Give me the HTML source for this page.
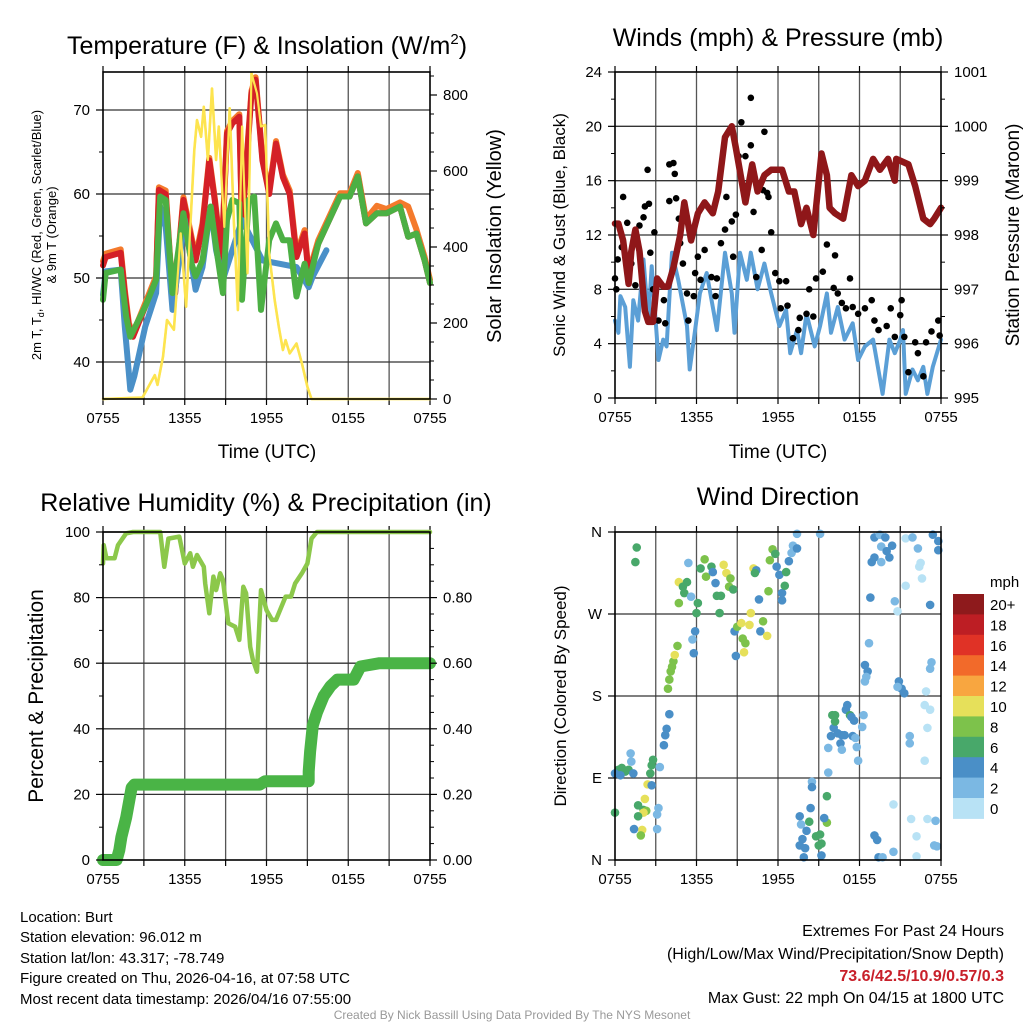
<!DOCTYPE html>
<html><head><meta charset="utf-8">
<style>
html,body{margin:0;padding:0;background:#fff;}
svg{display:block;font-family:"Liberation Sans",Arial,sans-serif;}
</style></head>
<body>
<svg id="fig" width="1024" height="1024" viewBox="0 0 1024 1024" xmlns="http://www.w3.org/2000/svg">
<rect width="1024" height="1024" fill="#fff"/>
<g id="p1"></g>
<g id="p2"></g>
<g id="p3"></g>
<g id="p4"></g>
<g id="txt">
<text x="20" y="922" font-size="15">Location: Burt</text>
<text x="20" y="942" font-size="15">Station elevation: 96.012 m</text>
<text x="20" y="963" font-size="15">Station lat/lon: 43.317; -78.749</text>
<text x="20" y="983" font-size="15">Figure created on Thu, 2026-04-16, at 07:58 UTC</text>
<text x="20" y="1004" font-size="15">Most recent data timestamp: 2026/04/16 07:55:00</text>
<text x="1004" y="936" font-size="16" text-anchor="end">Extremes For Past 24 Hours</text>
<text x="1004" y="959" font-size="16" text-anchor="end">(High/Low/Max Wind/Precipitation/Snow Depth)</text>
<text x="1004" y="981" font-size="16" font-weight="bold" fill="#c8202a" text-anchor="end">73.6/42.5/10.9/0.57/0.3</text>
<text x="1004" y="1003" font-size="16" text-anchor="end">Max Gust: 22 mph On 04/15 at 1800 UTC</text>
<text x="512" y="1019" font-size="12" fill="#999" text-anchor="middle">Created By Nick Bassill Using Data Provided By The NYS Mesonet</text>
</g>
</svg>
<script>
// ---------- data ----------
const timeLabels = ["0755","1355","1955","0155","0755"];
// Temperature panel (hours since 0755, °F)
const t2mHours = [0,0.2,1.3,1.6,1.9,2.2,3.1,3.9,4.1,4.6,5,5.3,5.9,6.3,6.8,7.3,7.8,8.2,8.7,9.1,9.5,10,10.2,10.9,11.2,11.7,12.2,12.7,13.2,13.7,14.2,14.8,15.1,15.8,16.6,17.4,18.1,18.7,19.3,20.1,20.8,21.8,22.4,23,23.6,24];
const t2mValues = [51.5,52.5,53,48.2,44.2,43,46.6,49.8,60.5,60,50.2,48.2,59.3,56.1,52.1,56.1,64,59.3,52.1,67.2,68.4,69.2,56.1,72,73.6,64,60,66,62,60,52.5,55.3,50.2,54.1,56.9,59.7,59.7,62.1,56.5,57.7,57.7,58.5,54.9,55.3,52.1,49.4];
const t9mValues = [52,52.9,53.4,48.6,44.6,43.4,47,50.2,60.8,60.4,50.6,48.6,59.6,56.5,52.5,56.5,64.3,59.6,52.5,67.5,68.7,69.5,56.5,72.3,73.9,64.3,60.4,66.3,62.3,60.4,52.9,55.7,50.6,54.5,57.3,60.1,60.1,62.5,57,58.6,58.2,59,58.5,55.8,52.5,49.8];
const tdHours = [0,0.2,1.3,1.7,2,3.1,3.9,4.2,4.6,5.1,5.9,6.5,6.8,7.3,7.9,8.3,8.8,9.1,9.5,10,10.2,10.7,11.1,11.6,12.2,12.7,13.2,13.7,14.2,14.8,15.1,15.8,16.6,17.4,18.1,18.7,19.3,20.1,20.8,21.8,22.4,23,23.6,24];
const tdValues = [47.4,50.6,51,45.4,43,46.6,49.8,59.7,59.3,48.2,57.7,51.7,50.2,52.1,58.5,53.7,48.2,56.9,59.3,58.9,47.4,59.3,59.7,46.2,54.5,56.5,54.5,54.5,47.8,51.7,49.4,54.1,56.9,59.7,59.7,62.1,56.5,57.7,57.7,58.5,54.9,55.3,52.1,49.4];
const hiHours = [0,0.2,1.3,1.6,2,2.3,3.1,3.5,3.9,4.2,4.6,5.1,6,6.8,7.3,7.9,8.3,8.8,10.2,11.7,14.2,15.1,15.4,16.4];
const hiValues = [48,50.8,51,44.2,36.7,38.3,44.2,46.2,48.2,58.5,56.1,46.2,56.9,48.6,51.3,58.5,53.3,49.8,56.9,52.1,51.3,48.9,50.2,53.3];
const solarHours = [0,2.9,3.8,4.0,4.4,4.7,5.2,5.7,6.1,6.7,6.9,7.2,7.4,7.7,8.0,8.3,8.5,8.9,9.3,9.6,9.9,10.2,10.6,10.9,11.3,11.6,11.9,12.2,12.6,12.9,13.2,13.4,13.7,14.2,14.6,15.0,15.3,24];
const solarValues = [0,4,63,37,111,208,182,436,243,655,734,690,769,629,817,629,717,453,765,471,234,717,331,857,804,717,721,383,260,190,129,155,120,146,94,32,0,0];
// Winds panel
const windHours = [0,0.25,0.4,0.75,1.1,1.35,1.7,2.1,2.45,2.7,3.2,3.55,3.8,4.2,4.65,5.3,5.5,5.9,6.25,6.75,7.2,7.5,8.1,8.6,8.8,9.2,9.7,10,10.5,11,11.5,12.1,12.6,12.9,13.4,13.7,14.1,14.7,15.1,15.6,15.9,16.4,16.9,17.5,17.9,18.4,19,19.7,20.2,20.6,21,21.2,21.4,21.9,22.3,22.7,23,23.4,24];
const windSpeed = [5.7,4.8,7.5,6.7,2.3,7.2,5.7,10.2,5.7,9.7,2.8,4.3,3.8,10.7,8.7,5.3,2.1,5.0,7.7,9.2,6.7,5.0,10.7,7.7,4.8,10.7,8.7,10.7,8.0,9.9,7.7,5.3,6.5,3.3,5.0,3.3,6.2,3.8,5.3,7.7,4.8,6.7,4.3,5.5,2.8,3.8,4.3,0.3,4.3,3.3,4.3,5.0,0.3,2.1,1.3,2.3,0.3,2.3,4.3];
const gustHours = [0,0.1,0.2,0.5,0.6,0.9,1.2,1.5,1.8,2.1,2.2,2.4,2.5,2.6,2.8,2.9,3.2,3.6,3.7,4.0,4.0,4.3,4.4,4.5,4.7,4.8,5.0,5.3,5.4,5.8,5.9,6.1,6.3,6.6,7.1,7.4,7.5,7.8,8.1,8.2,8.6,8.7,8.9,9.1,9.3,9.6,9.4,10.0,10.0,10.2,10.4,10.8,10.9,11.0,11.2,11.3,11.5,11.8,12.1,12.2,12.6,12.7,13.1,13.5,13.6,14.1,14.3,14.6,14.8,15.3,15.6,16.2,16.1,16.4,16.7,17.0,17.3,17.5,17.9,18.4,18.9,19.1,19.4,20.0,20.3,20.6,21.0,21.1,21.3,21.6,22.1,22.3,22.7,22.9,23.3,23.8,23.9];
const gustSpeed = [8.8,8.0,10.2,11.1,14.8,12.9,9.9,8.3,12.7,13.3,14.1,16.8,14.3,10.7,8.0,12.2,5.7,7.2,5.5,14.5,17.2,17.3,16.5,14.7,13.2,11.4,9.9,7.7,5.7,7.5,9.2,10.4,8.7,10.9,8.9,7.5,8.8,11.4,12.4,14.8,13.0,10.4,13.5,17.8,20.3,17.8,15.7,22.1,18.6,13.7,8.9,10.9,15.3,19.6,15.1,14.8,12.2,9.2,8.6,6.6,8.6,6.8,4.4,5.0,5.9,6.2,8.0,6.0,8.8,9.3,11.3,10.5,8.1,7.7,7.0,6.6,8.8,6.7,6.2,6.6,7.2,5.7,5.0,5.3,6.6,4.5,6.1,7.2,4.5,1.9,4.1,3.3,1.6,4.1,4.9,5.7,4.6];
const presHours = [0,0.25,0.6,1,1.2,1.5,1.8,2.2,2.45,2.8,3.1,3.55,3.9,4.3,4.8,5.1,5.6,6.1,6.6,7.2,7.6,8.1,8.6,8.9,9.6,10.1,10.5,11,11.5,12.3,12.8,13.2,13.7,14.1,14.6,15.2,15.6,15.8,16.2,16.8,17.4,17.9,18.4,19,19.5,20.1,20.6,20.7,21.6,22.1,22.7,23.2,23.5,24];
const presValues = [998.21,998.21,997.9,997.1,997.7,998.1,997.7,996.6,996.4,996.4,997.2,997.05,997.05,997.4,998.0,998.6,997.9,998.4,998.6,998.4,998.8,999.8,1000.0,999.6,998.6,999.3,998.8,999.1,999.2,999.2,998.8,998.8,998.2,998.5,998.0,999.5,999.1,998.5,998.4,998.3,999.1,998.9,999.0,999.4,999.2,999.4,999.0,999.4,999.3,998.9,998.3,998.2,998.3,998.5];
// Humidity panel
const rhHours = [0,0.05,0.25,0.85,1.1,1.7,2.2,4.2,4.5,4.8,5.6,6.0,6.4,6.6,6.9,7.4,7.5,7.8,8.1,8.3,8.6,8.8,9.2,9.7,10.0,10.3,10.5,10.8,11.0,11.3,11.6,12.0,12.4,12.7,13.4,13.8,14.1,14.6,15.0,15.3,15.7,24];
const rhValues = [90.4,96,92,92,96,99.6,100,100,89.4,98,98.6,90.4,93.5,89.4,93,89.4,84.3,75.2,86.4,82.3,87.4,85.4,72.2,71.1,67.1,83.3,81.3,65,61,57.4,82.3,76.2,73.2,73.2,80.3,80.3,84.3,87.4,90.4,98,100,100];
const precipHours = [0,1.0,1.2,1.35,1.7,2.1,2.3,11.5,11.9,15.1,15.1,15.2,15.4,15.7,16.2,16.7,17.2,18.4,18.9,20.3,24];
const precipValues = [0,0,0.03,0.07,0.13,0.22,0.23,0.23,0.24,0.24,0.27,0.33,0.41,0.45,0.50,0.53,0.55,0.55,0.59,0.60,0.60];
// Wind direction panel
const dirHours = [1.6,1.5,0,0.25,0.5,0.75,1.0,0.4,0,1.2,1.15,1.35,2.7,2.8,2.6,2.4,2.7,1.7,2.1,2.3,2.2,2.1,1.7,2.0,1.4,1.9,3.2,3.1,3.1,3.3,3.6,3.7,3.8,4.0,4.1,4.2,4.3,4.4,4.6,3.9,4.0,4.7,4.7,5.0,5.1,5.3,5.4,5.6,5.8,5.7,5.9,6.0,6.1,6.3,6.6,6.7,7.1,7.2,7.4,7.5,7.7,7.8,8.0,8.2,8.5,8.4,8.7,8.8,8.9,9.0,9.3,9.4,9.6,9.5,10.0,9.9,10.2,10.4,10.3,10.6,10.7,10.9,11.2,11.3,11.4,11.6,11.8,11.9,12.1,12.3,12.3,12.5,12.6,12.8,13.0,13.1,13.4,13.4,15.1,15.7,15.7,15.9,16.1,16.0,16.2,16.2,16.4,16.7,16.9,16.6,16.7,17.1,17.0,17.3,17.4,17.6,17.5,17.7,17.8,17.9,18.3,18.2,14.5,14.5,14.4,13.6,13.7,14.3,14.1,13.8,13.6,14.0,13.9,15.0,15.2,14.8,15.1,15.6,15.6,15.4,15.2,18.4,18.6,18.4,18.5,18.7,18.8,18.9,19.1,19.1,19.5,19.6,19.9,19.6,20.0,20.2,20.4,20.6,20.8,20.9,21.1,21.3,20.8,19.1,19.3,19.4,19.7,20.5,20.5,21.4,21.9,22.3,22.5,22.4,22.6,21.4,23.2,23.2,23.3,22.9,22.8,23.2,23.0,21.7,21.7,22.8,21.8,23.0,23.6,23.5,23.7,22.2,22.2,23.4,23.8,23.8];
const dirDegrees = [343,327,52,99,101,97,99,93,95,108,117,95,104,110,95,83,82,60,55,54,67,52,48,33,34,27,57,50,34,102,126,137,144,160,207,212,218,225,235,188,198,282,305,300,293,305,326,289,227,242,251,271,282,320,330,311,322,316,304,290,271,290,324,315,309,300,297,251,224,256,260,243,238,228,271,258,320,318,315,286,251,262,246,295,329,341,336,322,313,293,285,301,316,328,337,345,342,358,358,96,123,136,145,159,159,152,139,137,137,128,121,170,165,159,157,153,136,134,124,109,159,146,86,80,57,48,39,42,32,23,16,13,3,16,18,26,28,70,41,46,5,214,207,196,201,238,288,327,332,354,357,344,354,327,339,332,345,284,273,196,188,183,190,27,22,3,3,9,61,353,354,342,326,322,309,301,280,210,217,185,170,165,145,136,128,109,45,45,43,16,15,26,4,357,350,340];
const dirSpeed = [7,7,7,7,7,7,7,5,5,3,3,5,7,7,7,11,5,7,7,9,11,11,7,11,5,9,3,3,3,3,5,5,5,5,9,9,9,11,9,9,9,9,11,7,7,7,3,3,5,3,5,7,7,7,9,9,7,5,5,7,7,7,11,11,9,9,7,5,5,9,11,9,9,11,11,11,11,5,7,5,5,9,11,9,9,9,7,5,5,5,5,7,7,5,3,3,5,3,3,3,3,5,5,7,7,7,5,5,5,5,3,5,5,7,5,5,5,3,3,3,3,3,3,5,5,5,3,7,5,5,5,5,5,7,7,7,7,7,9,5,5,5,5,3,3,3,5,5,5,5,3,3,5,3,5,5,5,3,1,5,5,5,3,5,5,5,3,3,1,1,3,3,1,1,1,1,5,3,3,1,1,1,1,3,3,1,1,1,3,3,3,1,1,5,5,5];
const speedColors = ["#b8e2f5","#7bb8e3","#4a8fc7","#48a86a","#7dc24b","#e6e05a","#f8a640","#f26a2a","#e03226","#bd1e24","#8e1a1c"];
const speedLabels = ["0","2","4","6","8","10","12","14","16","18","20+"];

// ---------- helpers ----------
const NS = "http://www.w3.org/2000/svg";
function mk(parent, tag, attrs){
  const e = document.createElementNS(NS, tag);
  for (const k in attrs) e.setAttribute(k, attrs[k]);
  parent.appendChild(e);
  return e;
}
function txt(parent, x, y, s, size, anchor, extra){
  const e = mk(parent, "text", Object.assign({x:x, y:y, "font-size":size, "text-anchor":anchor||"start"}, extra||{}));
  e.textContent = s;
  return e;
}
function polyline(parent, xs, ys, sx, sy, color, w){
  const pts = xs.map((h,i)=> sx(h).toFixed(1)+","+sy(ys[i]).toFixed(1)).join(" ");
  return mk(parent, "polyline", {points:pts, fill:"none", stroke:color, "stroke-width":w, "stroke-linejoin":"round", "stroke-linecap":"round"});
}
function frame(g, L, T, R, B, hgrid){
  for (let i=1;i<8;i++){
    const x = L + (R-L)*i/8;
    const gl = mk(g, "line", {x1:x, y1:T, x2:x, y2:B, stroke:"#555", "stroke-width":1.3});
    
    
  }
  for (let i=0;i<=8;i++){
    const x = L + (R-L)*i/8;
    mk(g, "line", {x1:x, y1:T, x2:x, y2:T-6, stroke:"#000", "stroke-width":1.2});
    mk(g, "line", {x1:x, y1:B, x2:x, y2:B+6, stroke:"#000", "stroke-width":1.2});
  }
  hgrid.forEach(y=>{
    const hl = mk(g, "line", {x1:L, y1:y, x2:R, y2:y, stroke:"#333", "stroke-width":1.3});
    
    
  });
  timeLabels.forEach((s,i)=>{
    const t = txt(g, L+(R-L)*i/4, B+24, s, 15, "middle");
    
    
  });
}
function border(g, L, T, R, B){
  const r = mk(g, "rect", {x:L, y:T, width:R-L, height:B-T, fill:"none", stroke:"#000", "stroke-width":1.6});
  
  
}
function yTicks(g, xAxis, vals, sy, labels, side, minorVals){
  const dir = side==="left" ? -1 : 1;
  vals.forEach((v,i)=>{
    const y = sy(v);
    mk(g, "line", {x1:xAxis, y1:y, x2:xAxis+dir*7, y2:y, stroke:"#000", "stroke-width":1.2});
    const t = txt(g, xAxis+dir*13, y+5, labels[i], 15, side==="left"?"end":"start");
    
    
  });
  (minorVals||[]).forEach(v=>{
    const y = sy(v);
    mk(g, "line", {x1:xAxis, y1:y, x2:xAxis+dir*4, y2:y, stroke:"#000", "stroke-width":1});
  });
}
function rotText(parent, x, y, s, size){
  const t = mk(parent, "text", {x:0, y:0, "font-size":size, "text-anchor":"middle", transform:`translate(${x},${y}) rotate(-90)`});
  t.textContent = s;
  return t;
}

// ---------- Panel 1: Temperature ----------
(function(){
  const g = document.getElementById("p1");
  const L=103,T=72,R=430,B=399;
  const sx = h => L + (R-L)*h/24;
  const sy = v => 110 + (70 - v)*8.4;
  const sS = s => B - s*0.38;
  frame(g, L, T, R, B, [sy(70),sy(60),sy(50),sy(40)]);
  const lo = polyline(g, solarHours, solarValues, sx, sS, "#fde44f", 2.6);
  
  
  const l9 = polyline(g, t2mHours, t9mValues, sx, sy, "#f47a2c", 6);
  
  
  const l2 = polyline(g, t2mHours, t2mValues, sx, sy, "#d42027", 6);
  
  
  const lh = polyline(g, hiHours, hiValues, sx, sy, "#4a90c8", 6);
  
  
  const ld = polyline(g, tdHours, tdValues, sx, sy, "#4cb044", 6);
  
  
  const lo2 = polyline(g, solarHours, solarValues, sx, sS, "#fde44f", 2.2);
  
  
  border(g, L, T, R, B);
  yTicks(g, L, [40,50,60,70], sy, ["40","50","60","70"], "left", [45,55,65]);
  yTicks(g, R, [0,200,400,600,800], sS, ["0","200","400","600","800"], "right", [50,100,150,250,300,350,450,500,550,650,700,750,850]);
  const t = mk(g, "text", {x:267, y:54, "font-size":25, "text-anchor":"middle"});
  t.innerHTML = 'Temperature (F) &amp; Insolation (W/m<tspan font-size="15" dy="-10">2</tspan><tspan dy="10">)</tspan>';
  
  
  const xt = txt(g, 267, 458, "Time (UTC)", 19, "middle");
  
  
  const y1 = mk(g, "text", {x:0, y:0, "font-size":13, "text-anchor":"middle", transform:"translate(41,235) rotate(-90)"});
  y1.innerHTML = '2m T, T<tspan font-size="9" dy="3">d</tspan><tspan dy="-3">, HI/WC (Red, Green, Scarlet/Blue)</tspan>';
  
  
  const y2 = rotText(g, 56, 235, "& 9m T (Orange)", 13);
  
  
  const yr = rotText(g, 501, 236, "Solar Insolation (Yellow)", 20);
  
  
})();

// ---------- Panel 2: Winds ----------
(function(){
  const g = document.getElementById("p2");
  const L=615,T=72,R=941,B=398;
  const sx = h => L + (R-L)*h/24;
  const sy = v => B - v*(B-T)/24;
  const sp = p => B - (p-995)*(B-T)/6;
  frame(g, L, T, R, B, [sy(4),sy(8),sy(12),sy(16),sy(20)]);
  const lw = polyline(g, windHours, windSpeed, sx, sy, "#5b9fd6", 4);
  
  
  gustHours.forEach((h,i)=>{
    const c = mk(g, "circle", {cx:sx(h), cy:sy(gustSpeed[i]), r:3.3, fill:"#000"});
    
    
  });
  const lp = polyline(g, presHours, presValues, sx, sp, "#8f1719", 6.5);
  
  
  border(g, L, T, R, B);
  yTicks(g, L, [0,4,8,12,16,20,24], sy, ["0","4","8","12","16","20","24"], "left", [2,6,10,14,18,22]);
  yTicks(g, R, [995,996,997,998,999,1000,1001], sp, ["995","996","997","998","999","1000","1001"], "right", [995.5,996.5,997.5,998.5,999.5,1000.5]);
  const t = txt(g, 778, 46, "Winds (mph) & Pressure (mb)", 25, "middle");
  
  
  const xt = txt(g, 778, 458, "Time (UTC)", 19, "middle");
  
  
  const yl = rotText(g, 565, 235, "Sonic Wind & Gust (Blue, Black)", 17);
  
  
  const yr = rotText(g, 1019, 235, "Station Pressure (Maroon)", 19);
  
  
})();

// ---------- Panel 3: Humidity ----------
(function(){
  const g = document.getElementById("p3");
  const L=103,T=532,R=430,B=860;
  const sx = h => L + (R-L)*h/24;
  const sy = v => B - v*(B-T)/100;
  const sP = p => B - p*(B-T);
  frame(g, L, T, R, B, [sy(20),sy(40),sy(60),sy(80),sy(100)]);
  const lr = polyline(g, rhHours, rhValues, sx, sy, "#8cc84b", 4.5);
  
  
  const lpc = polyline(g, precipHours, precipValues, sx, sP, "#4ab446", 12);
  
  
  border(g, L, T, R, B);
  yTicks(g, L, [0,20,40,60,80,100], sy, ["0","20","40","60","80","100"], "left", [10,30,50,70,90]);
  yTicks(g, R, [0,0.2,0.4,0.6,0.8], sP, ["0.00","0.20","0.40","0.60","0.80"], "right", [0.05,0.1,0.15,0.25,0.3,0.35,0.45,0.5,0.55,0.65,0.7,0.75,0.85,0.9,0.95]);
  const t = txt(g, 266, 511, "Relative Humidity (%) & Precipitation (in)", 25, "middle");
  
  
  const yl = rotText(g, 43, 696, "Percent & Precipitation", 21);
  
  
})();

// ---------- Panel 4: Wind direction ----------
(function(){
  const g = document.getElementById("p4");
  const L=615,T=532,R=941,B=860;
  const sx = h => L + (R-L)*h/24;
  const sy = d => B - d*(B-T)/360;
  frame(g, L, T, R, B, [sy(90),sy(180),sy(270)]);
  dirHours.forEach((h,i)=>{
    const idx = Math.min(10, Math.floor(dirSpeed[i]/2));
    const c = mk(g, "circle", {cx:sx(h), cy:sy(dirDegrees[i]), r:4.3, fill:speedColors[idx]});
    
    
  });
  border(g, L, T, R, B);
  yTicks(g, L, [0,90,180,270,360], sy, ["N","E","S","W","N"], "left", []);
  const t = txt(g, 778, 505, "Wind Direction", 25, "middle");
  
  
  const yl = rotText(g, 566, 696, "Direction (Colored By Speed)", 17);
  
  
  const cb = mk(g, "g", {});
  
  
  const top=594, bh=20.4;
  speedColors.slice().reverse().forEach((c,i)=>{
    const r = mk(cb, "rect", {x:953, y:top+i*bh, width:31, height:bh+0.5, fill:c});
    
    
  });
  speedLabels.slice().reverse().forEach((s,i)=>{
    const l = txt(cb, 990, top+i*bh+16, s, 15, "start");
    
    
  });
  const u = txt(cb, 990, 587, "mph", 15, "start");
  
  
})();
</script>
</body></html>
